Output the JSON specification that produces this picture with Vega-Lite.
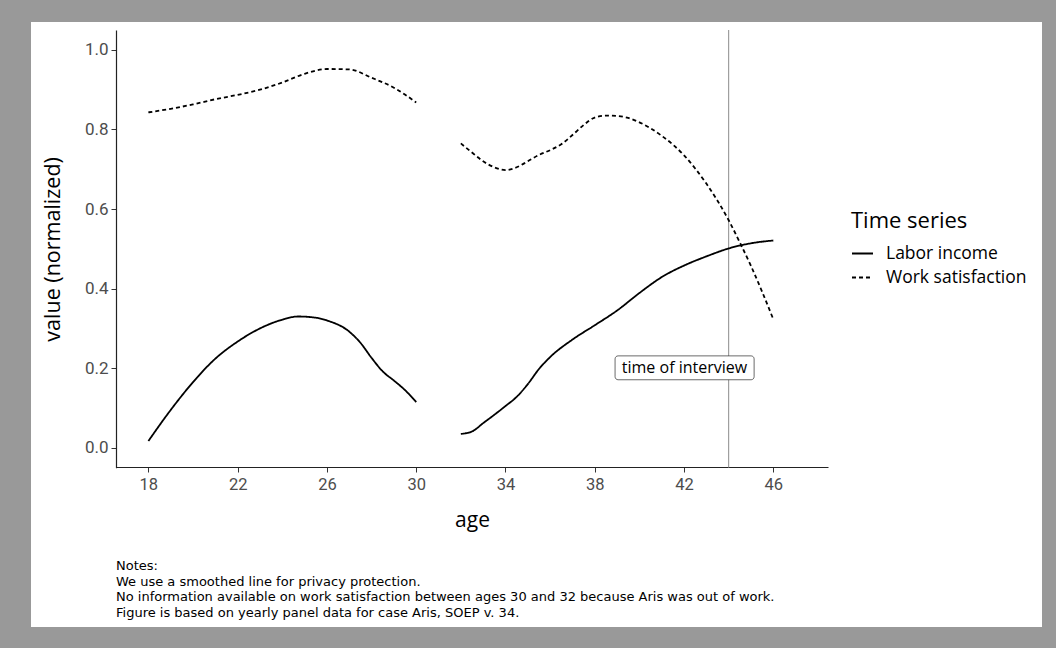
{
  "$schema": "https://vega.github.io/schema/vega-lite/v6.json",
  "width": 1011,
  "height": 605,
  "autosize": {"type": "none"},
  "padding": {"left": 31, "top": 22, "right": 14, "bottom": 21},
  "background": "#999999",
  "config": {
    "view": {"fill": "white", "stroke": null}
  },
  "title": {
    "text": [
      "Notes:",
      "We use a smoothed line for privacy protection.",
      "No information available on work satisfaction between ages 30 and 32 because Aris was out of work.",
      "Figure is based on yearly panel data for case Aris, SOEP v. 34."
    ],
    "orient": "bottom",
    "anchor": "start",
    "frame": "group",
    "offset": -67,
    "dx": 85,
    "font": "DejaVu Sans",
    "fontSize": 13,
    "fontWeight": "normal",
    "color": "black",
    "lineHeight": 15.6
  },
  "datasets": {
    "series": [
      {"age": 18, "value": 0.017, "series": "Labor income", "segment": "L1"},
      {"age": 19, "value": 0.095, "series": "Labor income", "segment": "L1"},
      {"age": 20, "value": 0.165, "series": "Labor income", "segment": "L1"},
      {"age": 21, "value": 0.224, "series": "Labor income", "segment": "L1"},
      {"age": 22, "value": 0.267, "series": "Labor income", "segment": "L1"},
      {"age": 23, "value": 0.300, "series": "Labor income", "segment": "L1"},
      {"age": 24, "value": 0.322, "series": "Labor income", "segment": "L1"},
      {"age": 24.7, "value": 0.330, "series": "Labor income", "segment": "L1"},
      {"age": 25.5, "value": 0.327, "series": "Labor income", "segment": "L1"},
      {"age": 26, "value": 0.320, "series": "Labor income", "segment": "L1"},
      {"age": 27, "value": 0.292, "series": "Labor income", "segment": "L1"},
      {"age": 27.5, "value": 0.264, "series": "Labor income", "segment": "L1"},
      {"age": 28, "value": 0.226, "series": "Labor income", "segment": "L1"},
      {"age": 28.5, "value": 0.192, "series": "Labor income", "segment": "L1"},
      {"age": 29, "value": 0.169, "series": "Labor income", "segment": "L1"},
      {"age": 29.5, "value": 0.145, "series": "Labor income", "segment": "L1"},
      {"age": 30, "value": 0.115, "series": "Labor income", "segment": "L1"},
      {"age": 32, "value": 0.035, "series": "Labor income", "segment": "L2"},
      {"age": 32.5, "value": 0.041, "series": "Labor income", "segment": "L2"},
      {"age": 33, "value": 0.062, "series": "Labor income", "segment": "L2"},
      {"age": 33.5, "value": 0.083, "series": "Labor income", "segment": "L2"},
      {"age": 34, "value": 0.105, "series": "Labor income", "segment": "L2"},
      {"age": 34.5, "value": 0.128, "series": "Labor income", "segment": "L2"},
      {"age": 35, "value": 0.160, "series": "Labor income", "segment": "L2"},
      {"age": 35.5, "value": 0.198, "series": "Labor income", "segment": "L2"},
      {"age": 36, "value": 0.228, "series": "Labor income", "segment": "L2"},
      {"age": 37, "value": 0.272, "series": "Labor income", "segment": "L2"},
      {"age": 38, "value": 0.308, "series": "Labor income", "segment": "L2"},
      {"age": 39, "value": 0.345, "series": "Labor income", "segment": "L2"},
      {"age": 40, "value": 0.389, "series": "Labor income", "segment": "L2"},
      {"age": 41, "value": 0.429, "series": "Labor income", "segment": "L2"},
      {"age": 42, "value": 0.458, "series": "Labor income", "segment": "L2"},
      {"age": 43, "value": 0.481, "series": "Labor income", "segment": "L2"},
      {"age": 44, "value": 0.501, "series": "Labor income", "segment": "L2"},
      {"age": 45, "value": 0.514, "series": "Labor income", "segment": "L2"},
      {"age": 46, "value": 0.521, "series": "Labor income", "segment": "L2"},
      {"age": 18, "value": 0.843, "series": "Work satisfaction", "segment": "W1"},
      {"age": 19, "value": 0.852, "series": "Work satisfaction", "segment": "W1"},
      {"age": 20, "value": 0.863, "series": "Work satisfaction", "segment": "W1"},
      {"age": 21, "value": 0.876, "series": "Work satisfaction", "segment": "W1"},
      {"age": 22, "value": 0.887, "series": "Work satisfaction", "segment": "W1"},
      {"age": 23, "value": 0.900, "series": "Work satisfaction", "segment": "W1"},
      {"age": 24, "value": 0.918, "series": "Work satisfaction", "segment": "W1"},
      {"age": 25, "value": 0.940, "series": "Work satisfaction", "segment": "W1"},
      {"age": 26, "value": 0.952, "series": "Work satisfaction", "segment": "W1"},
      {"age": 27, "value": 0.951, "series": "Work satisfaction", "segment": "W1"},
      {"age": 28, "value": 0.930, "series": "Work satisfaction", "segment": "W1"},
      {"age": 29, "value": 0.905, "series": "Work satisfaction", "segment": "W1"},
      {"age": 30, "value": 0.868, "series": "Work satisfaction", "segment": "W1"},
      {"age": 32, "value": 0.765, "series": "Work satisfaction", "segment": "W2"},
      {"age": 32.5, "value": 0.742, "series": "Work satisfaction", "segment": "W2"},
      {"age": 33, "value": 0.720, "series": "Work satisfaction", "segment": "W2"},
      {"age": 33.5, "value": 0.705, "series": "Work satisfaction", "segment": "W2"},
      {"age": 34, "value": 0.698, "series": "Work satisfaction", "segment": "W2"},
      {"age": 34.5, "value": 0.705, "series": "Work satisfaction", "segment": "W2"},
      {"age": 35, "value": 0.720, "series": "Work satisfaction", "segment": "W2"},
      {"age": 35.5, "value": 0.736, "series": "Work satisfaction", "segment": "W2"},
      {"age": 36, "value": 0.748, "series": "Work satisfaction", "segment": "W2"},
      {"age": 36.5, "value": 0.763, "series": "Work satisfaction", "segment": "W2"},
      {"age": 37, "value": 0.786, "series": "Work satisfaction", "segment": "W2"},
      {"age": 37.5, "value": 0.811, "series": "Work satisfaction", "segment": "W2"},
      {"age": 38, "value": 0.830, "series": "Work satisfaction", "segment": "W2"},
      {"age": 38.5, "value": 0.835, "series": "Work satisfaction", "segment": "W2"},
      {"age": 39, "value": 0.834, "series": "Work satisfaction", "segment": "W2"},
      {"age": 39.5, "value": 0.829, "series": "Work satisfaction", "segment": "W2"},
      {"age": 40, "value": 0.818, "series": "Work satisfaction", "segment": "W2"},
      {"age": 40.5, "value": 0.803, "series": "Work satisfaction", "segment": "W2"},
      {"age": 41, "value": 0.784, "series": "Work satisfaction", "segment": "W2"},
      {"age": 41.5, "value": 0.762, "series": "Work satisfaction", "segment": "W2"},
      {"age": 42, "value": 0.735, "series": "Work satisfaction", "segment": "W2"},
      {"age": 42.5, "value": 0.702, "series": "Work satisfaction", "segment": "W2"},
      {"age": 43, "value": 0.664, "series": "Work satisfaction", "segment": "W2"},
      {"age": 43.5, "value": 0.621, "series": "Work satisfaction", "segment": "W2"},
      {"age": 44, "value": 0.572, "series": "Work satisfaction", "segment": "W2"},
      {"age": 44.5, "value": 0.516, "series": "Work satisfaction", "segment": "W2"},
      {"age": 45, "value": 0.457, "series": "Work satisfaction", "segment": "W2"},
      {"age": 45.5, "value": 0.392, "series": "Work satisfaction", "segment": "W2"},
      {"age": 46, "value": 0.323, "series": "Work satisfaction", "segment": "W2"}
    ],
    "annotation": [
      {"label": "time of interview"}
    ]
  },
  "layer": [
    {
      "data": {"name": "annotation"},
      "mark": {"type": "rule", "color": "#8c8c8c", "strokeWidth": 1},
      "encoding": {
        "x": {"datum": 44, "type": "quantitative"},
        "y": {"datum": 1.05, "type": "quantitative"},
        "y2": {"datum": -0.05}
      }
    },
    {
      "data": {"name": "series"},
      "mark": {"type": "line", "interpolate": "monotone", "color": "black", "strokeWidth": 1.8},
      "encoding": {
        "x": {
          "field": "age",
          "type": "quantitative",
          "scale": {"domain": [16.55, 48.45], "range": [85, 797], "nice": false, "zero": false},
          "axis": {
            "orient": "bottom",
            "offset": -160,
            "values": [18, 22, 26, 30, 34, 38, 42, 46],
            "grid": false,
            "domainColor": "#222222",
            "domainWidth": 1.2,
            "tickColor": "#333333",
            "tickSize": 5,
            "labelFont": "Roboto",
            "labelFontSize": 16.5,
            "labelColor": "#4d4d4d",
            "labelPadding": 4,
            "title": "age",
            "titleFont": "Open Sans",
            "titleFontSize": 21,
            "titleFontWeight": "normal",
            "titleColor": "black",
            "titlePadding": 17
          }
        },
        "y": {
          "field": "value",
          "type": "quantitative",
          "scale": {"domain": [-0.05, 1.05], "range": [445.7, 8], "nice": false, "zero": false},
          "axis": {
            "orient": "left",
            "offset": -85,
            "values": [0, 0.2, 0.4, 0.6, 0.8, 1.0],
            "format": ".1f",
            "grid": false,
            "domainColor": "#222222",
            "domainWidth": 1.2,
            "tickColor": "#333333",
            "tickSize": 5,
            "labelFont": "Roboto",
            "labelFontSize": 17,
            "labelColor": "#4d4d4d",
            "labelPadding": 3,
            "title": "value (normalized)",
            "titleFont": "Open Sans",
            "titleFontSize": 21.5,
            "titleFontWeight": "normal",
            "titleColor": "black",
            "titlePadding": 20
          }
        },
        "strokeDash": {
          "field": "series",
          "type": "nominal",
          "scale": {"domain": ["Labor income", "Work satisfaction"], "range": [[1, 0], [4, 3]]},
          "legend": {
            "orient": "none",
            "legendX": 820,
            "legendY": 189,
            "title": "Time series",
            "titleFont": "Open Sans",
            "titleFontSize": 22,
            "titleFontWeight": "normal",
            "titleColor": "black",
            "titlePadding": 9,
            "labelFont": "Open Sans",
            "labelFontSize": 17.5,
            "labelColor": "black",
            "labelOffset": 12,
            "symbolType": "stroke",
            "symbolStrokeColor": "black",
            "symbolStrokeWidth": 2,
            "symbolSize": 441,
            "rowPadding": 4
          }
        },
        "detail": {"field": "segment", "type": "nominal"}
      }
    },
    {
      "data": {"name": "annotation"},
      "mark": {"type": "rect", "fill": "white", "stroke": "#444444", "strokeWidth": 0.8, "cornerRadius": 3},
      "encoding": {
        "x": {"datum": 38.91, "type": "quantitative"},
        "x2": {"datum": 45.14},
        "y": {"datum": 0.171, "type": "quantitative"},
        "y2": {"datum": 0.231}
      }
    },
    {
      "data": {"name": "annotation"},
      "mark": {"type": "text", "font": "Open Sans", "fontSize": 16, "color": "black", "align": "center", "baseline": "middle"},
      "encoding": {
        "x": {"datum": 42.02, "type": "quantitative"},
        "y": {"datum": 0.2, "type": "quantitative"},
        "text": {"field": "label", "type": "nominal"}
      }
    }
  ]
}
